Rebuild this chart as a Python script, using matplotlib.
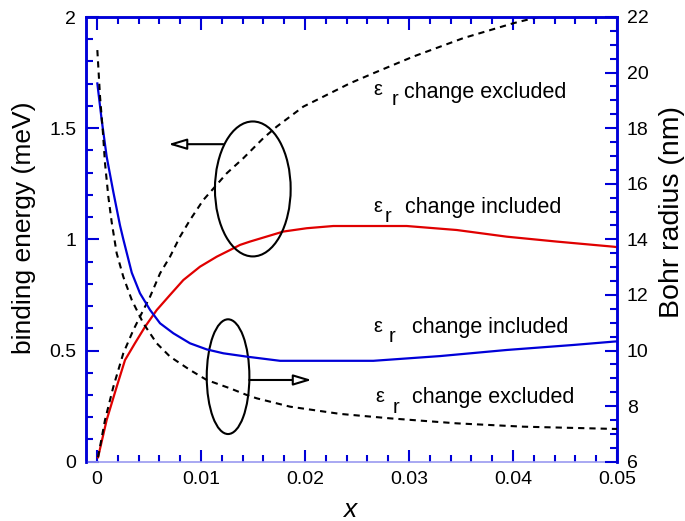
import matplotlib
matplotlib.use("Agg")
import matplotlib.pyplot as plt
from matplotlib.patches import Ellipse
from matplotlib.ticker import MultipleLocator, FuncFormatter

plt.rcParams['font.family'] = ['Liberation Sans', 'DejaVu Sans']

# binding energy, eps_r change included (red, left axis)
x_e_inc = [0.0001, 0.00093, 0.00189, 0.00269, 0.00365, 0.00462, 0.00574, 0.00702, 0.0083,
           0.0099, 0.01151, 0.01279, 0.01375, 0.01471, 0.01791, 0.02016, 0.02272, 0.02978,
           0.03459, 0.0394, 0.0442, 0.04965, 0.0500]
e_inc = [0.02, 0.188, 0.337, 0.457, 0.533, 0.607, 0.682, 0.750, 0.817,
         0.877, 0.922, 0.952, 0.975, 0.990, 1.035, 1.05, 1.06, 1.06,
         1.042, 1.012, 0.99, 0.967, 0.965]

# binding energy, eps_r change excluded (black dashed, left axis)
x_e_exc = [0.0001, 0.00077, 0.00157, 0.00253, 0.00349, 0.0043, 0.0051, 0.00606, 0.00702,
           0.00798, 0.00894, 0.01022, 0.01135, 0.01247, 0.01407, 0.01599, 0.01728, 0.01856,
           0.01984, 0.02113, 0.02305, 0.02433, 0.02657, 0.03041, 0.03522, 0.04003, 0.0426, 0.0445]
e_exc = [0.02, 0.188, 0.337, 0.488, 0.592, 0.668, 0.742, 0.847, 0.922,
         1.012, 1.087, 1.177, 1.237, 1.297, 1.365, 1.455, 1.507, 1.552,
         1.597, 1.627, 1.672, 1.702, 1.747, 1.822, 1.905, 1.972, 2.002, 2.02]

# Bohr radius, eps_r change included (blue, right axis)
x_r_inc = [0.00003, 0.00045, 0.00093, 0.00157, 0.00221, 0.00253, 0.00334, 0.00413, 0.0051,
           0.00606, 0.00734, 0.00894, 0.01055, 0.01215, 0.0144, 0.0176, 0.02657, 0.03298,
           0.0394, 0.0458, 0.04965, 0.0500]
r_inc = [19.61, 18.29, 16.97, 15.7, 14.5, 14.0, 12.8, 12.06, 11.46,
         10.98, 10.62, 10.26, 10.04, 9.90, 9.78, 9.63, 9.63, 9.80,
         10.02, 10.2, 10.32, 10.33]

# Bohr radius, eps_r change excluded (black dashed, right axis)
x_r_exc = [0.00003, 0.00029, 0.00055, 0.00077, 0.00109, 0.00141, 0.00189, 0.00253, 0.00334,
           0.00445, 0.00574, 0.00702, 0.00894, 0.01055, 0.01279, 0.0144, 0.01536, 0.01856,
           0.02337, 0.02817, 0.03459, 0.041, 0.04965, 0.0500]
r_exc = [20.81, 19.13, 17.93, 16.73, 15.53, 14.62, 13.5, 12.65, 11.82,
         10.98, 10.26, 9.78, 9.30, 8.94, 8.64, 8.40, 8.28, 7.98,
         7.72, 7.56, 7.38, 7.26, 7.18, 7.18]

BLUE = '#0000d8'
RED = '#e00000'
DASH = (0, (3, 2.4))

fig = plt.figure(figsize=(6.85, 5.21), dpi=100)
ax = fig.add_axes([86/685, 1-461.7/521, 531/685, 444.7/521])
ax2 = ax.twinx()

ax.plot(x_e_inc, e_inc, color=RED, lw=1.6, zorder=3)
ax.plot(x_e_exc, e_exc, color='black', lw=1.5, ls=DASH, zorder=3)
ax2.plot(x_r_inc, r_inc, color=BLUE, lw=1.6, zorder=3)
ax2.plot(x_r_exc, r_exc, color='black', lw=1.5, ls=DASH, zorder=3)

ax.set_xlim(-0.00106, 0.05)
ax.set_ylim(0, 2)
ax2.set_ylim(6, 22)

ax.xaxis.set_major_locator(MultipleLocator(0.01))
ax.xaxis.set_minor_locator(MultipleLocator(0.002))
ax.yaxis.set_major_locator(MultipleLocator(0.5))
ax.yaxis.set_minor_locator(MultipleLocator(0.1))
ax2.yaxis.set_major_locator(MultipleLocator(2))
ax2.yaxis.set_minor_locator(MultipleLocator(0.5))

def fmt(v, pos):
    s = ('%.3f' % v).rstrip('0').rstrip('.')
    return '0' if s in ('-0', '') else s
ax.xaxis.set_major_formatter(FuncFormatter(fmt))
ax.yaxis.set_major_formatter(FuncFormatter(fmt))

for a in (ax, ax2):
    a.tick_params(which='both', direction='in', color=BLUE, width=1.5,
                  labelsize=14, labelcolor='black')
    a.tick_params(which='major', length=9, pad=7)
    a.tick_params(which='minor', length=5)
ax.tick_params(which='both', top=True, right=False)
ax2.tick_params(which='both', left=False, right=True)
for s in ('left', 'top', 'right'):
    ax.spines[s].set_color(BLUE)
    ax.spines[s].set_linewidth(1.8)
    ax2.spines[s].set_color(BLUE)
    ax2.spines[s].set_linewidth(1.8)
ax.spines['bottom'].set_color('#9a9af0')
ax.spines['bottom'].set_linewidth(1.2)
ax2.spines['bottom'].set_visible(False)

ax.set_ylabel('binding energy (meV)', fontsize=19, va='center')
ax.yaxis.set_label_coords(-0.117, 0.5255)
ax2.set_ylabel('Bohr radius (nm)', fontsize=20.5, va='center')
ax2.yaxis.set_label_coords(1.1036, 0.5615)
ax.set_xlabel('x', fontsize=19, style='italic', va='center')
ax.xaxis.set_label_coords(0.497, -0.1086)

# ellipses and arrows
ax.add_patch(Ellipse((0.01498, 1.2267), 0.00728, 0.607, fill=False, ec='black', lw=1.5, zorder=4))
ax.add_patch(Ellipse((0.0126, 0.3824), 0.0041, 0.516, fill=False, ec='black', lw=1.5, zorder=4))
ap = dict(arrowstyle='-|>,head_length=1.1,head_width=0.33', mutation_scale=10,
          fc='white', ec='black', lw=1.5, shrinkA=0, shrinkB=0)
ax.annotate('', xy=(0.00686, 1.428), xytext=(0.01214, 1.428), arrowprops=ap, zorder=4)
ax.annotate('', xy=(0.02064, 0.3675), xytext=(0.01464, 0.3675), arrowprops=ap, zorder=4)

# text labels
def eps_label(xe, ye, xr, yr, xt, yt, txt):
    ax.text(xe, ye, '\u03b5', fontsize=14.5, va='baseline', ha='left')
    ax.text(xr, yr, 'r', fontsize=14.5, va='baseline', ha='left')
    ax.text(xt, yt, txt, fontsize=15.5, va='baseline', ha='left')

eps_label(0.02654, 1.649, 0.02837, 1.604, 0.02952, 1.636, 'change excluded')
eps_label(0.02654, 1.122, 0.02769, 1.080, 0.02962, 1.117, 'change included')
eps_label(0.02654, 0.5834, 0.02808, 0.540, 0.03026, 0.5776, 'change included')
eps_label(0.02673, 0.270, 0.02846, 0.219, 0.03026, 0.2627, 'change excluded')

fig.savefig('out.png', dpi=100)
